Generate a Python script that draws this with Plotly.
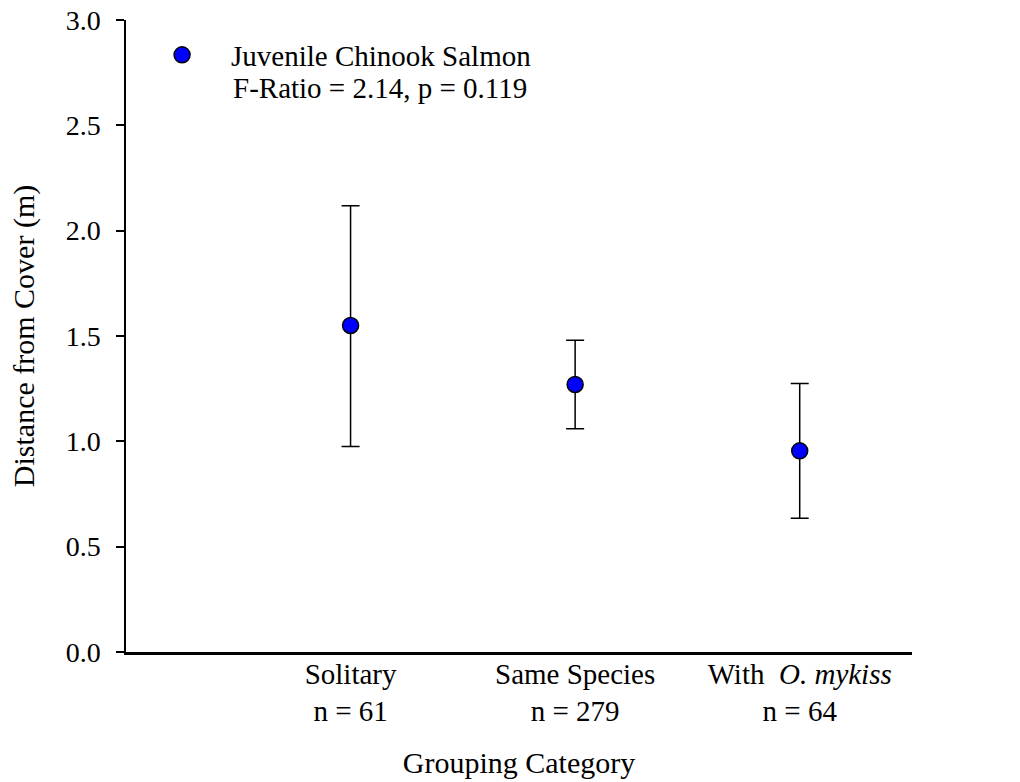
import plotly.graph_objects as go

categories = ["Solitary<br>n = 61", "Same Species<br>n = 279", "With  <i>O. mykiss</i><br>n = 64"]
positions = [1, 2, 3]
means = [1.55, 1.27, 0.955]
upper = [2.118, 1.48, 1.275]
lower = [0.975, 1.06, 0.635]
y_ticks = [0, 0.5, 1.0, 1.5, 2.0, 2.5, 3.0]
series_name = "Juvenile Chinook Salmon"
stats_text = "F-Ratio = 2.14, p = 0.119"

err_plus = [u - m for u, m in zip(upper, means)]
err_minus = [m - l for m, l in zip(means, lower)]

FONT = "Liberation Serif"

fig = go.Figure()
fig.add_trace(go.Scatter(
    x=positions, y=means, mode="markers",
    name=series_name,
    marker=dict(color="#0000ff", size=16, line=dict(color="black", width=1.5)),
    error_y=dict(type="data", symmetric=False, array=err_plus, arrayminus=err_minus,
                 color="black", thickness=1.5, width=9),
))

fig.add_annotation(
    text=stats_text, xref="paper", yref="paper", x=0.1336, y=0.892,
    xanchor="left", yanchor="middle", showarrow=False,
    font=dict(family=FONT, size=29, color="black"),
)

fig.update_layout(
    width=1020, height=782,
    margin=dict(l=126, r=108, t=20, b=130),
    plot_bgcolor="white", paper_bgcolor="white",
    font=dict(family=FONT, size=29, color="black"),
    showlegend=True,
    legend=dict(x=0.009, y=0.985, xanchor="left", yanchor="top",
                bgcolor="rgba(0,0,0,0)",
                font=dict(family=FONT, size=29, color="black"), itemwidth=88),
    xaxis=dict(range=[0, 3.5], tickvals=positions, ticktext=categories,
               showgrid=False, zeroline=False, showline=True, linecolor="black",
               linewidth=2.5, ticks="", automargin=False, ticklabelstandoff=-6,
               title=dict(text="Grouping Category", standoff=26,
                          font=dict(family=FONT, size=30, color="black")),
               tickfont=dict(family=FONT, size=29, color="black")),
    yaxis=dict(range=[0, 3.0001], tickvals=y_ticks,
               tickformat=".1f", showgrid=False, zeroline=False, showline=True,
               linecolor="black", linewidth=1.5, ticks="outside", ticklen=8,
               tickwidth=1.5, tickcolor="black", automargin=False,
               ticklabeloverflow="allow", ticklabelstandoff=10,
               title=dict(text="Distance from Cover (m)", standoff=22,
                          font=dict(family=FONT, size=30, color="black")),
               tickfont=dict(family=FONT, size=28, color="black")),
)

fig.write_html("out.html", config={"displayModeBar": False},
               post_script="document.body.style.margin='0px';")
